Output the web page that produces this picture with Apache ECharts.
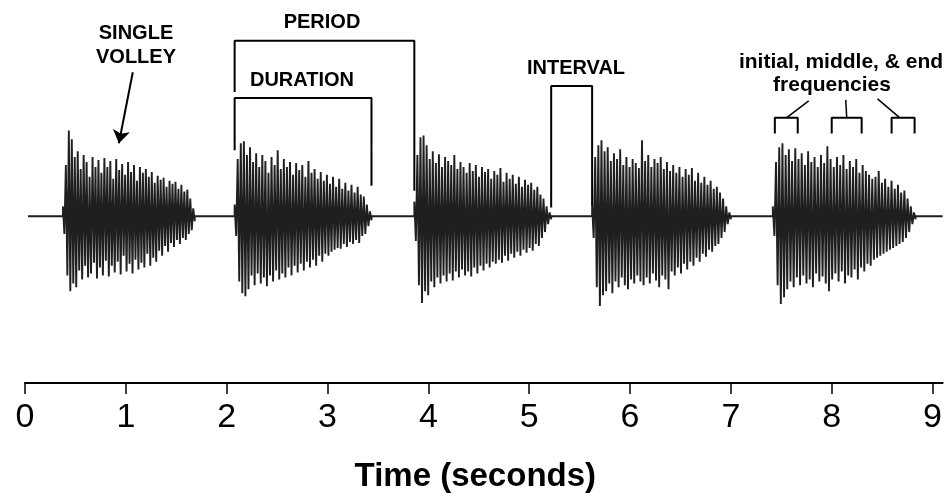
<!DOCTYPE html>
<html>
<head>
<meta charset="utf-8">
<script src="https://cdn.jsdelivr.net/npm/echarts@6/dist/echarts.min.js"></script>
<style>
html,body{margin:0;padding:0;background:#fff;}
#chart{width:945px;height:498px;}
</style>
</head>
<body>
<div id="chart"></div>
<script>
// ---- data (time in seconds, amplitude in relative units) ----
const tickLabels = ['0','1','2','3','4','5','6','7','8','9'];
const volleyStart = [0.376, 2.079, 3.861, 5.624, 7.416];
const volleyEnd   = [1.683, 3.436, 5.218, 7.000, 8.832];
const recordStart = 0.03;
const recordEnd = 9.1;

const volley1 = [
0.10,-0.18, 0.52,-0.60, 0.87,-0.76, 0.78,-0.68, 0.60,-0.72, 0.66,-0.55, 0.48,-0.64, 0.62,-0.50,
0.55,-0.62, 0.40,-0.58, 0.60,-0.47, 0.50,-0.63, 0.57,-0.52, 0.44,-0.60, 0.59,-0.45, 0.50,-0.61,
0.56,-0.50, 0.38,-0.57, 0.58,-0.46, 0.47,-0.59, 0.53,-0.40, 0.42,-0.56, 0.55,-0.48, 0.45,-0.58,
0.52,-0.44, 0.36,-0.54, 0.50,-0.47, 0.44,-0.52, 0.48,-0.38, 0.40,-0.50, 0.45,-0.42, 0.34,-0.46,
0.41,-0.35, 0.37,-0.40, 0.39,-0.30, 0.30,-0.36, 0.36,-0.27, 0.33,-0.31, 0.35,-0.24, 0.28,-0.28,
0.32,-0.22, 0.25,-0.24, 0.27,-0.18, 0.18,-0.14, 0.08,-0.05
];
const volley2 = [
0.12,-0.20, 0.58,-0.66, 0.74,-0.78, 0.76,-0.81, 0.62,-0.74, 0.70,-0.60, 0.55,-0.70, 0.64,-0.58,
0.50,-0.68, 0.62,-0.62, 0.56,-0.71, 0.44,-0.60, 0.60,-0.66, 0.52,-0.55, 0.67,-0.64, 0.48,-0.58,
0.58,-0.62, 0.50,-0.52, 0.55,-0.60, 0.42,-0.50, 0.54,-0.57, 0.47,-0.48, 0.52,-0.55, 0.40,-0.46,
0.56,-0.52, 0.44,-0.44, 0.48,-0.50, 0.38,-0.40, 0.45,-0.46, 0.36,-0.38, 0.42,-0.40, 0.33,-0.36,
0.40,-0.34, 0.30,-0.32, 0.38,-0.33, 0.28,-0.28, 0.34,-0.31, 0.26,-0.26, 0.32,-0.28, 0.24,-0.24,
0.30,-0.27, 0.22,-0.20, 0.20,-0.18, 0.12,-0.10, 0.05,-0.04
];
const volley3 = [
0.15,-0.25, 0.62,-0.70, 0.80,-0.88, 0.82,-0.76, 0.72,-0.80, 0.58,-0.66, 0.66,-0.72, 0.54,-0.62,
0.63,-0.68, 0.50,-0.60, 0.60,-0.66, 0.56,-0.58, 0.52,-0.65, 0.62,-0.56, 0.48,-0.62, 0.55,-0.54,
0.50,-0.60, 0.44,-0.56, 0.54,-0.61, 0.46,-0.52, 0.52,-0.58, 0.40,-0.50, 0.50,-0.55, 0.45,-0.48,
0.48,-0.52, 0.38,-0.46, 0.46,-0.48, 0.42,-0.44, 0.49,-0.47, 0.35,-0.40, 0.44,-0.45, 0.38,-0.38,
0.42,-0.42, 0.33,-0.36, 0.40,-0.40, 0.30,-0.34, 0.37,-0.37, 0.32,-0.32, 0.34,-0.35, 0.27,-0.28,
0.30,-0.30, 0.22,-0.22, 0.18,-0.16, 0.10,-0.08, 0.04,-0.03
];
const volley4 = [
0.12,-0.22, 0.60,-0.72, 0.72,-0.91, 0.77,-0.80, 0.66,-0.76, 0.70,-0.68, 0.56,-0.78, 0.64,-0.66,
0.58,-0.72, 0.68,-0.62, 0.52,-0.70, 0.60,-0.74, 0.50,-0.64, 0.58,-0.68, 0.54,-0.60, 0.49,-0.66,
0.77,-0.70, 0.56,-0.62, 0.62,-0.68, 0.50,-0.58, 0.58,-0.65, 0.54,-0.72, 0.60,-0.60, 0.48,-0.64,
0.55,-0.74, 0.46,-0.56, 0.52,-0.60, 0.44,-0.52, 0.50,-0.58, 0.40,-0.48, 0.48,-0.54, 0.42,-0.46,
0.49,-0.50, 0.36,-0.42, 0.44,-0.46, 0.34,-0.38, 0.40,-0.41, 0.32,-0.34, 0.36,-0.36, 0.28,-0.30,
0.30,-0.28, 0.24,-0.22, 0.18,-0.16, 0.10,-0.08, 0.04,-0.03
];
const volley5 = [
0.10,-0.20, 0.55,-0.70, 0.70,-0.89, 0.74,-0.82, 0.62,-0.74, 0.68,-0.66, 0.56,-0.72, 0.69,-0.62,
0.58,-0.70, 0.64,-0.60, 0.52,-0.68, 0.66,-0.64, 0.55,-0.72, 0.60,-0.58, 0.50,-0.66, 0.62,-0.61,
0.54,-0.68, 0.71,-0.76, 0.58,-0.64, 0.50,-0.58, 0.60,-0.66, 0.52,-0.56, 0.62,-0.68, 0.48,-0.60,
0.56,-0.62, 0.50,-0.54, 0.58,-0.64, 0.44,-0.52, 0.52,-0.56, 0.46,-0.48, 0.42,-0.50, 0.38,-0.44,
0.40,-0.42, 0.46,-0.40, 0.34,-0.38, 0.38,-0.36, 0.30,-0.34, 0.36,-0.32, 0.28,-0.30, 0.32,-0.28,
0.24,-0.26, 0.26,-0.22, 0.18,-0.16, 0.10,-0.08, 0.04,-0.03
];
const volleys = [volley1, volley2, volley3, volley4, volley5];

// frequency-sampling windows on the last volley (seconds)
const freqWindows = [[7.436, 7.663], [8.000, 8.297], [8.594, 8.822]];

// ---- build waveform ----
const wave = [[recordStart, 0]];
volleys.forEach((v, k) => {
  const s = volleyStart[k], e = volleyEnd[k], n = v.length;
  wave.push([s, 0]);
  v.forEach((a, i) => wave.push([s + (e - s) * i / (n - 1), a]));
  wave.push([e, 0]);
});
wave.push([recordEnd, 0]);

const bracketStyle = {color: '#000', width: 2};
function bracket(x1, x2, yTop, yL, yR) {
  return {
    type: 'line', data: [[x1, yL], [x1, yTop], [x2, yTop], [x2, yR]],
    showSymbol: false, symbol: 'none', lineStyle: bracketStyle, clip: false,
    animation: false, silent: true, z: 5
  };
}
function connector(p, q) {
  return {type: 'line', data: [p, q], showSymbol: false, symbol: 'none',
    lineStyle: {color: '#000', width: 1.5}, clip: false, animation: false, silent: true};
}

const series = [
  {
    type: 'line', data: wave, showSymbol: false, symbol: 'none',
    lineStyle: {color: '#1f1f1f', width: 1.9}, clip: false, animation: false, silent: true
  },
  bracket(volleyStart[1], volleyStart[2], 1.78, 1.26, 0.26),   // PERIOD
  bracket(volleyStart[1], volleyEnd[1], 1.20, 0.67, 0.31),     // DURATION
  bracket(volleyEnd[2], volleyStart[3], 1.32, 0.09, 0.11),     // INTERVAL
  ...freqWindows.map(w => bracket(w[0], w[1], 1.0, 0.84, 0.84)),
  connector([7.554, 1.0], [7.772, 1.17]),
  connector([8.149, 1.0], [8.139, 1.18]),
  connector([8.673, 1.0], [8.455, 1.19]),
  {
    type: 'lines', coordinateSystem: 'cartesian2d', polyline: false,
    data: [{coords: [[1.069, 1.46], [0.931, 0.74]]}],
    symbol: ['none', 'arrow'], symbolSize: 13,
    lineStyle: {color: '#000', width: 2, opacity: 1}, animation: false, silent: true
  }
];

const chart = echarts.init(document.getElementById('chart'), null, {renderer: 'canvas'});
const lblFont = "bold 20px 'Liberation Sans', Arial, sans-serif";
function txt(text, x, y, font) {
  return {type: 'text', x: x, y: y, silent: true,
    style: {text: text, font: font || lblFont, fill: '#000', textAlign: 'center', textVerticalAlign: 'middle'}};
}
chart.setOption({
  backgroundColor: '#fff',
  animation: false,
  grid: {left: 25, right: 1, top: 19, bottom: 110, containLabel: false},
  xAxis: {
    type: 'value', min: 0, max: 9.1, interval: 1,
    axisLine: {show: true, onZero: false, lineStyle: {color: '#000', width: 2}},
    axisTick: {show: true, length: 11, lineStyle: {color: '#000', width: 1.5}},
    axisLabel: {
      show: true, margin: 18, color: '#000', fontSize: 34,
      fontFamily: "'Liberation Sans', Arial, sans-serif",
      formatter: v => (Number.isInteger(v) && v < tickLabels.length) ? tickLabels[v] : '',
      showMaxLabel: false
    },
    splitLine: {show: false},
    name: 'Time (seconds)', nameLocation: 'middle', nameGap: 77,
    nameTextStyle: {fontSize: 33, fontWeight: 'bold', color: '#000',
      fontFamily: "'Liberation Sans', Arial, sans-serif", padding: [0, 17, 0, 0]}
  },
  yAxis: {type: 'value', min: -1.69, max: 2.0, show: false, splitLine: {show: false}},
  series: series,
  graphic: [
    txt('SINGLE', 136, 33),
    txt('VOLLEY', 136, 57),
    txt('PERIOD', 322, 22),
    txt('DURATION', 302, 80),
    txt('INTERVAL', 576, 68),
    txt('initial, middle, & end', 841, 62, "bold 21px 'Liberation Sans', Arial, sans-serif"),
    txt('frequencies', 832, 85, "bold 21px 'Liberation Sans', Arial, sans-serif")
  ]
});
</script>
</body>
</html>
